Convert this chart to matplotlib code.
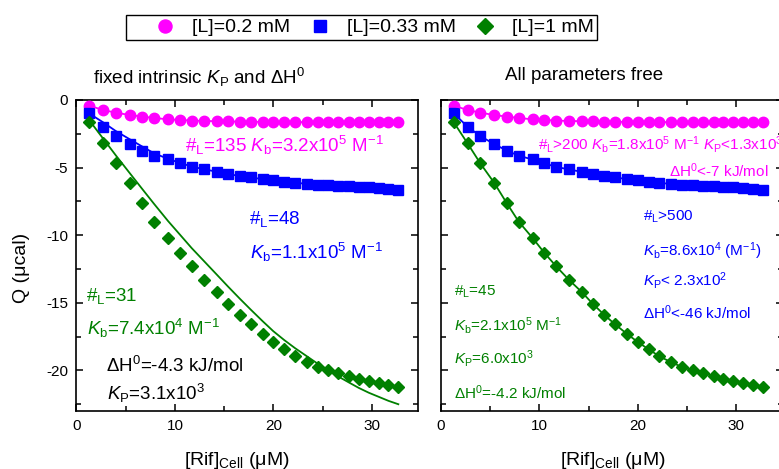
import matplotlib
matplotlib.use('Agg')
import matplotlib.pyplot as plt
from matplotlib.lines import Line2D
from matplotlib.ticker import MultipleLocator

plt.rcParams['font.family'] = ['Liberation Sans', 'DejaVu Sans']
plt.rcParams['mathtext.fontset'] = 'custom'
plt.rcParams['mathtext.rm'] = 'Liberation Sans'
plt.rcParams['mathtext.it'] = 'Liberation Sans:italic'
plt.rcParams['mathtext.bf'] = 'Liberation Sans:bold'
plt.rcParams['axes.unicode_minus'] = False

# ---- data ----
rif_cell = [1.3, 2.7, 4.0, 5.4, 6.7, 7.9, 9.3, 10.5, 11.7, 13.0, 14.3, 15.4, 16.6, 17.7,
            18.9, 20.0, 21.1, 22.2, 23.4, 24.5, 25.6, 26.6, 27.7, 28.7, 29.7, 30.7, 31.7, 32.7]

q_02 = [-0.42, -0.74, -0.94, -1.11, -1.23, -1.33, -1.43, -1.48, -1.52, -1.55, -1.57, -1.59,
        -1.60, -1.61, -1.62, -1.62, -1.63, -1.63, -1.64, -1.64, -1.64, -1.65, -1.65, -1.65,
        -1.65, -1.66, -1.66, -1.66]
q_033 = [-0.99, -1.98, -2.67, -3.26, -3.75, -4.12, -4.40, -4.69, -4.94, -5.14, -5.31, -5.48,
         -5.63, -5.73, -5.85, -5.93, -6.05, -6.12, -6.22, -6.25, -6.30, -6.35, -6.37, -6.42,
         -6.47, -6.52, -6.60, -6.67]
q_1 = [-1.65, -3.21, -4.69, -6.12, -7.65, -9.00, -10.2, -11.3, -12.3, -13.3, -14.2, -15.06,
       -15.9, -16.6, -17.3, -17.9, -18.44, -18.96, -19.4, -19.75, -20.0, -20.2, -20.4, -20.6,
       -20.8, -20.9, -21.06, -21.25]

# fits with fixed intrinsic KP and dH0 (left)
fit_fixed_02 = q_02
fit_fixed_033 = [-1.0, -1.65, -2.3, -2.9, -3.45, -3.95, -4.35, -4.65, -4.92, -5.13, -5.31, -5.48,
                 -5.62, -5.73, -5.85, -5.94, -6.04, -6.12, -6.2, -6.25, -6.3, -6.35, -6.38, -6.42,
                 -6.47, -6.52, -6.59, -6.66]
fit_fixed_1 = [-1.5, -2.85, -4.1, -5.4, -6.6, -7.7, -8.95, -9.95, -10.95, -11.95, -12.95, -13.8,
               -14.7, -15.5, -16.35, -17.1, -17.75, -18.35, -18.95, -19.5, -20.0, -20.45, -20.9,
               -21.3, -21.65, -21.95, -22.25, -22.5]

# fits with all parameters free (right) - run through the points
fit_free_02 = q_02
fit_free_033 = q_033
fit_free_1 = q_1

labels = ['[L]=0.2 mM', '[L]=0.33 mM', '[L]=1 mM']
colors = ['#ff00ff', '#0000ff', '#008000']
markers = ['o', 's', 'D']
msizes = [7.5, 6.5, 6.0]

fig = plt.figure(figsize=(7.79, 4.69), dpi=100)
ax1 = fig.add_axes([0.0982, 0.1237, 0.4384, 0.6631])
ax2 = fig.add_axes([0.5661, 0.1237, 0.4384, 0.6631])

series = [q_02, q_033, q_1]
fits = [[fit_fixed_02, fit_fixed_033, fit_fixed_1],
        [fit_free_02, fit_free_033, fit_free_1]]

for ax, fset in zip([ax1, ax2], fits):
    for y, f, c, m, ms in zip(series, fset, colors, markers, msizes):
        ax.plot(rif_cell, y, ls='none', marker=m, ms=ms, color=c, mec=c, zorder=3)
        ax.plot(rif_cell, f, '-', color=c, lw=1.3, zorder=4)
    ax.set_xlim(0, 34.7)
    ax.set_ylim(-23, 0)
    ax.xaxis.set_major_locator(MultipleLocator(10))
    ax.xaxis.set_minor_locator(MultipleLocator(5))
    ax.yaxis.set_major_locator(MultipleLocator(5))
    ax.yaxis.set_minor_locator(MultipleLocator(2.5))
    ax.tick_params(which='both', direction='in', top=True, right=True, width=1.1,
                   labelsize=11, pad=6)
    ax.tick_params(which='major', length=5)
    ax.tick_params(which='minor', length=3.5)
    for s in ax.spines.values():
        s.set_linewidth(1.2)

ax2.tick_params(labelleft=False)

# titles and axis labels
fig.text(0.2555, 0.834, r'fixed intrinsic $K_\mathrm{P}$ and ΔH$^0$', fontsize=13.5,
         ha='center', va='center')
fig.text(0.7503, 0.838, 'All parameters free', fontsize=13.5, ha='center', va='center')
fig.text(0.028, 0.4286, 'Q (μcal)', fontsize=14, rotation=90, ha='center', va='center')
fig.text(0.304, 0.0085, r'[Rif]$_\mathrm{Cell}$ (μM)', fontsize=14, ha='center', va='baseline')
fig.text(0.787, 0.0085, r'[Rif]$_\mathrm{Cell}$ (μM)', fontsize=14, ha='center', va='baseline')

# annotations left
fs1 = 13.5
ax1.text(11.04, -3.83, r'#$_\mathrm{L}$=135 $K_\mathrm{b}$=3.2x10$^5$ M$^{-1}$', color=colors[0], fontsize=fs1)
ax1.text(17.48, -9.14, r'#$_\mathrm{L}$=48', color=colors[1], fontsize=fs1)
ax1.text(17.65, -11.73, r'$K_\mathrm{b}$=1.1x10$^5$ M$^{-1}$', color=colors[1], fontsize=fs1)
ax1.text(0.97, -14.86, r'#$_\mathrm{L}$=31', color=colors[2], fontsize=fs1)
ax1.text(1.1, -17.4, r'$K_\mathrm{b}$=7.4x10$^4$ M$^{-1}$', color=colors[2], fontsize=fs1)
ax1.text(3.0, -20.12, r'ΔH$^0$=-4.3 kJ/mol', color='black', fontsize=fs1)
ax1.text(3.07, -22.2, r'$K_\mathrm{P}$=3.1x10$^3$', color='black', fontsize=fs1)

# annotations right
fs2 = 11
ax2.text(9.9, -3.7, r'#$_\mathrm{L}$>200 $K_\mathrm{b}$=1.8x10$^5$ M$^{-1}$ $K_\mathrm{P}$<1.3x10$^3$',
         color=colors[0], fontsize=fs2, clip_on=False)
ax2.text(23.18, -5.68, r'ΔH$^0$<-7 kJ/mol', color=colors[0], fontsize=fs2)
ax2.text(20.54, -8.89, r'#$_\mathrm{L}$>500', color=colors[1], fontsize=fs2)
ax2.text(20.54, -11.56, r'$K_\mathrm{b}$=8.6x10$^4$ (M$^{-1}$)', color=colors[1], fontsize=fs2)
ax2.text(20.54, -13.7, r'$K_\mathrm{P}$< 2.3x10$^2$', color=colors[1], fontsize=fs2)
ax2.text(20.54, -16.17, r'ΔH$^0$<-46 kJ/mol', color=colors[1], fontsize=fs2)
ax2.text(1.32, -14.44, r'#$_\mathrm{L}$=45', color=colors[2], fontsize=fs2)
ax2.text(1.32, -17.04, r'$K_\mathrm{b}$=2.1x10$^5$ M$^{-1}$', color=colors[2], fontsize=fs2)
ax2.text(1.32, -19.5, r'$K_\mathrm{P}$=6.0x10$^3$', color=colors[2], fontsize=fs2)
ax2.text(1.32, -22.1, r'ΔH$^0$=-4.2 kJ/mol', color=colors[2], fontsize=fs2)

# legend on top
leg_ms = [9.4, 8.4, 8.0]
handles = [Line2D([], [], ls='none', marker=m, color=c, ms=s) for m, c, s in zip(markers, colors, leg_ms)]
leg = fig.legend(handles, labels, loc='center', bbox_to_anchor=(0.464, 0.941), ncol=3,
                 fontsize=14, frameon=True, fancybox=False, edgecolor='black', framealpha=1,
                 handlelength=3.7, handletextpad=-0.46, columnspacing=-0.36, borderpad=0.2)
leg.get_frame().set_linewidth(1.0)

fig.savefig('out.png', dpi=100)
